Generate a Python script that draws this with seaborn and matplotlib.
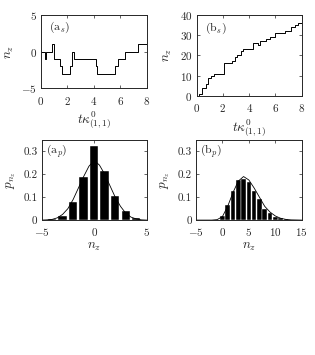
import numpy as np
import pandas as pd
import matplotlib
matplotlib.use("Agg")
import matplotlib.pyplot as plt
import seaborn as sns

# --- trajectory data (a_s): jump times and values
as_t = [0, 0.32, 0.36, 0.84, 0.98, 1.42, 1.6, 2.22, 2.38, 2.52, 4.15, 4.25, 5.6, 5.85, 6.38, 7.3, 8.0]
as_n = [0, -1, 0, 1, -1, -2, -3, -2, 0, -1, -2, -3, -2, -1, 0, 1, 1]

# --- trajectory data (b_s)
bs_t = [0, 0.15, 0.45, 0.7, 0.85, 1.1, 1.35, 2.05, 2.7, 2.9, 3.1, 3.35, 3.55, 4.3, 4.65, 4.8,
        5.3, 5.55, 5.95, 6.7, 7.2, 7.45, 7.7, 8.0]
bs_n = [0, 1, 4, 6, 9, 10, 11, 16, 17, 19, 20, 22, 23, 26, 25, 27, 28, 29, 31, 32, 34, 35, 36, 36]

# --- histogram (a_p)
ap_n = [-4, -3, -2, -1, 0, 1, 2, 3, 4]
ap_p = [0.005, 0.02, 0.08, 0.19, 0.325, 0.215, 0.105, 0.04, 0.008]
ap_cx = [-5, -4.5, -4, -3.5, -3, -2.5, -2, -1.5, -1, -0.5, 0, 0.5, 1, 1.5, 2, 2.5, 3, 3.5, 4, 4.5, 5]
ap_cy = [0.0, 0.001, 0.003, 0.01, 0.025, 0.05, 0.09, 0.14, 0.19, 0.235, 0.26, 0.24, 0.2, 0.15,
         0.1, 0.06, 0.03, 0.013, 0.005, 0.001, 0.0]

# --- histogram (b_p)
bp_n = [-1, 0, 1, 2, 3, 4, 5, 6, 7, 8, 9, 10, 11, 12]
bp_p = [0.002, 0.02, 0.065, 0.125, 0.175, 0.18, 0.165, 0.125, 0.09, 0.05, 0.03, 0.015, 0.007, 0.003]
bp_cx = [-5, -2, -1, 0, 1, 2, 3, 4, 5, 6, 7, 8, 9, 10, 11, 12, 13, 15]
bp_cy = [0.0, 0.0, 0.002, 0.015, 0.06, 0.12, 0.17, 0.19, 0.175, 0.14, 0.1, 0.06, 0.035, 0.018,
         0.008, 0.003, 0.001, 0.0]

sns.set_style("ticks")
plt.rcParams["font.family"] = ["cmr10", "DejaVu Serif"]
plt.rcParams["mathtext.fontset"] = "cm"
plt.rcParams["axes.unicode_minus"] = False
plt.rcParams["axes.formatter.use_mathtext"] = True
plt.rcParams["xtick.direction"] = "in"
plt.rcParams["ytick.direction"] = "in"
plt.rcParams["xtick.top"] = True
plt.rcParams["ytick.right"] = True
plt.rcParams["font.size"] = 8

fig = plt.figure(figsize=(3.15, 3.55), dpi=100)
ax1 = fig.add_axes([0.130, 0.751, 0.336, 0.207])
ax2 = fig.add_axes([0.624, 0.730, 0.334, 0.228])
ax3 = fig.add_axes([0.132, 0.380, 0.334, 0.226])
ax4 = fig.add_axes([0.622, 0.380, 0.336, 0.226])

tlabel = r"$t\kappa^{\mathbf{0}}_{(1,1)}$"
lab_fs = 9.5

sns.lineplot(x=as_t, y=as_n, ax=ax1, color="black", lw=0.7, drawstyle="steps-post",
             estimator=None, sort=False)
ax1.set_xlim(0, 8)
ax1.set_ylim(-5, 5)
ax1.set_xticks([0, 2, 4, 6, 8])
ax1.set_yticks([-5, 0, 5])
ax1.set_xlabel(tlabel, fontsize=lab_fs)
ax1.set_ylabel(r"$n_z$", fontsize=lab_fs)
ax1.text(0.08, 0.8, r"(a$_s$)", transform=ax1.transAxes, fontsize=8.5)

sns.lineplot(x=bs_t, y=bs_n, ax=ax2, color="black", lw=0.7, drawstyle="steps-post",
             estimator=None, sort=False)
ax2.set_xlim(0, 8)
ax2.set_ylim(0, 40)
ax2.set_xticks([0, 2, 4, 6, 8])
ax2.set_yticks([0, 10, 20, 30, 40])
ax2.set_xlabel(tlabel, fontsize=lab_fs)
ax2.set_ylabel(r"$n_z$", fontsize=lab_fs)
ax2.text(0.08, 0.8, r"(b$_s$)", transform=ax2.transAxes, fontsize=8.5)

sns.barplot(x=ap_n, y=ap_p, ax=ax3, native_scale=True, color="black", width=0.8,
            saturation=1, edgecolor="white", linewidth=0.3)
sns.lineplot(x=ap_cx, y=ap_cy, ax=ax3, color="black", lw=0.6, estimator=None, sort=False)
ax3.set_xlim(-5, 5)
ax3.set_ylim(0, 0.35)
ax3.set_xticks([-5, 0, 5])
ax3.set_yticks([0, 0.1, 0.2, 0.3])
ax3.set_yticklabels(["0", "0.1", "0.2", "0.3"])
ax3.set_xlabel(r"$n_z$", fontsize=lab_fs)
ax3.set_ylabel(r"$p_{n_z}$", fontsize=lab_fs)
ax3.text(0.04, 0.83, r"(a$_p$)", transform=ax3.transAxes, fontsize=8.5)

sns.barplot(x=bp_n, y=bp_p, ax=ax4, native_scale=True, color="black", width=0.88,
            saturation=1, edgecolor="white", linewidth=0.3)
sns.lineplot(x=bp_cx, y=bp_cy, ax=ax4, color="black", lw=0.6, estimator=None, sort=False)
ax4.set_xlim(-5, 15)
ax4.set_ylim(0, 0.35)
ax4.set_xticks([-5, 0, 5, 10, 15])
ax4.set_yticks([0, 0.1, 0.2, 0.3])
ax4.set_yticklabels(["0", "0.1", "0.2", "0.3"])
ax4.set_xlabel(r"$n_z$", fontsize=lab_fs)
ax4.set_ylabel(r"$p_{n_z}$", fontsize=lab_fs)
ax4.text(0.04, 0.83, r"(b$_p$)", transform=ax4.transAxes, fontsize=8.5)

for ax in (ax1, ax2, ax3, ax4):
    ax.tick_params(length=2.5, width=0.5)
    ax.tick_params(axis="x", pad=4.5)
    ax.tick_params(axis="y", pad=3)
    for s in ax.spines.values():
        s.set_linewidth(0.7)
    ax.xaxis.labelpad = 2
    ax.yaxis.labelpad = 4

fig.savefig("out.png", dpi=100)
